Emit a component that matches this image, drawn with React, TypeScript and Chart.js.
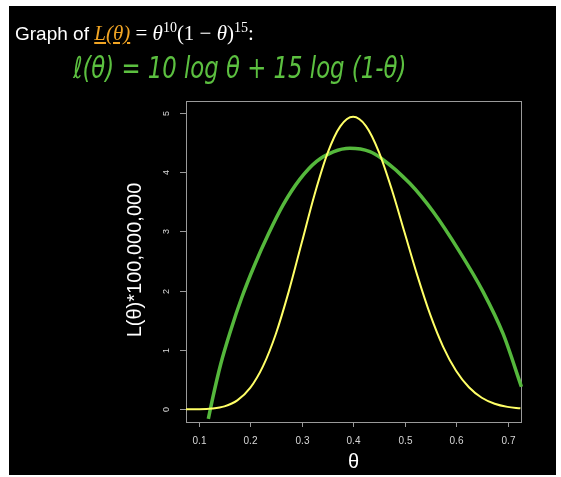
import React, { useEffect, useRef } from "react";
import { Chart, registerables } from "chart.js";

Chart.register(...registerables);

// Yellow curve: L(theta) * 100,000,000
const thetaL = [0.075, 0.1, 0.125, 0.15, 0.175, 0.2, 0.225, 0.25, 0.275, 0.3, 0.325, 0.35, 0.375, 0.4, 0.425, 0.45, 0.475, 0.5, 0.525, 0.55, 0.575, 0.6, 0.625, 0.65, 0.675, 0.7, 0.725];
const valuesL = [0.0002, 0.002, 0.013, 0.05, 0.15, 0.36, 0.727, 1.274, 1.988, 2.803, 3.618, 4.31, 4.769, 4.93, 4.774, 4.34, 3.709, 2.98, 2.249, 1.591, 1.053, 0.649, 0.371, 0.195, 0.094, 0.041, 0.016];

// Green hand-drawn curve
const thetaG = [0.1187, 0.1272, 0.1427, 0.1621, 0.1835, 0.208, 0.2352, 0.2643, 0.2967, 0.329, 0.3614, 0.3938, 0.4326, 0.455, 0.51, 0.5556, 0.6074, 0.6526, 0.6915, 0.727];
const valuesG = [-0.16, 0.19, 0.76, 1.33, 1.88, 2.42, 2.95, 3.45, 3.88, 4.18, 4.34, 4.4, 4.344, 4.23, 3.81, 3.33, 2.65, 1.98, 1.27, 0.38];

const xTicks = [0.1, 0.2, 0.3, 0.4, 0.5, 0.6, 0.7];
const yTicks = [0, 1, 2, 3, 4, 5];

const yTitle = "L(θ)*100,000,000";
const xTitle = "θ";

const W = 561;
const H = 477;

const framePlugin = {
  id: "frame",
  beforeDraw(chart: any) {
    const ctx = chart.ctx;
    const { left, top, right, bottom } = chart.chartArea;
    const xs = chart.scales.x;
    const ys = chart.scales.y;
    ctx.save();
    ctx.fillStyle = "#ffffff";
    ctx.fillRect(0, 0, W, H);
    ctx.fillStyle = "#000000";
    ctx.fillRect(9, 6, 547, 469);
    // box
    ctx.strokeStyle = "#9a9a9a";
    ctx.lineWidth = 1;
    ctx.strokeRect(Math.round(left) + 0.5, Math.round(top) + 0.5, Math.round(right - left), Math.round(bottom - top));
    // x ticks
    ctx.fillStyle = "#d8d8d8";
    ctx.font = "10px 'Liberation Sans', Arial, sans-serif";
    ctx.textAlign = "center";
    ctx.textBaseline = "middle";
    xTicks.forEach((t) => {
      const px = Math.round(xs.getPixelForValue(t)) + 0.5;
      ctx.beginPath();
      ctx.moveTo(px, bottom);
      ctx.lineTo(px, bottom + 5);
      ctx.stroke();
      ctx.fillText(String(t), px, bottom + 19);
    });
    // y ticks
    ctx.font = "9px 'Liberation Sans', Arial, sans-serif";
    yTicks.forEach((t) => {
      const py = Math.round(ys.getPixelForValue(t)) + 0.5;
      ctx.beginPath();
      ctx.moveTo(left, py);
      ctx.lineTo(left - 6, py);
      ctx.stroke();
      ctx.save();
      ctx.translate(left - 19, py);
      ctx.rotate(-Math.PI / 2);
      ctx.fillText(String(t), 0, 0);
      ctx.restore();
    });
    // axis titles
    ctx.fillStyle = "#ffffff";
    ctx.font = "20px 'Liberation Sans', Arial, sans-serif";
    ctx.save();
    ctx.translate(135, 260);
    ctx.rotate(-Math.PI / 2);
    ctx.fillText(yTitle, 0, 0);
    ctx.restore();
    ctx.font = "20px 'Liberation Sans', Arial, sans-serif";
    ctx.fillText(xTitle, (left + right) / 2, 462);
    ctx.restore();
  },
};

export default function App() {
  const ref = useRef<HTMLCanvasElement | null>(null);
  useEffect(() => {
    if (!ref.current) return;
    const chart = new Chart(ref.current, {
      type: "line",
      data: {
        datasets: [
          {
            data: thetaL.map((x, i) => ({ x, y: valuesL[i] })),
            borderColor: "#ffff66",
            borderWidth: 2,
            pointRadius: 0,
            cubicInterpolationMode: "monotone",
            fill: false,
          },
          {
            data: thetaG.map((x, i) => ({ x, y: valuesG[i] })),
            borderColor: "#55b83c",
            borderWidth: 3.5,
            pointRadius: 0,
            cubicInterpolationMode: "monotone",
            fill: false,
            clip: false as any,
          },
        ],
      },
      options: {
        animation: false,
        responsive: false,
        devicePixelRatio: 1,
        layout: { padding: { left: 186, top: 101, right: W - 521, bottom: H - 422 } },
        plugins: { legend: { display: false }, tooltip: { enabled: false } },
        events: [],
        scales: {
          x: { type: "linear", min: 0.0753, max: 0.7262, display: false },
          y: { type: "linear", min: -0.214, max: 5.197, display: false },
        },
      },
      plugins: [framePlugin],
    });
    return () => chart.destroy();
  }, []);

  return (
    <div style={{ position: "absolute", left: 0, top: 0, width: W, height: H }}>
      <canvas ref={ref} width={W} height={H} style={{ position: "absolute", left: 0, top: 0, width: W, height: H }} />
      <div
        style={{
          position: "absolute",
          left: 15,
          top: 14,
          color: "#ffffff",
          fontSize: 19,
          fontFamily: "'Liberation Sans', Arial, sans-serif",
          whiteSpace: "nowrap",
          lineHeight: "28px",
        }}
      >
        <span>Graph of </span>
        <span style={{ color: "#f0a424", fontFamily: "'Liberation Serif', serif", fontStyle: "italic", textDecoration: "underline", fontSize: 21 }}>L(θ)</span>
        <span style={{ fontFamily: "'Liberation Serif', serif", fontSize: 21 }}>
          {" = "}
          <i>θ</i>
          <sup style={{ fontSize: 14 }}>10</sup>
          (1 − <i>θ</i>)<sup style={{ fontSize: 14 }}>15</sup>:
        </span>
      </div>
      <div
        style={{
          position: "absolute",
          left: 73,
          top: 46,
          color: "#5cc040",
          fontSize: 30,
          fontFamily: "'DejaVu Sans', sans-serif",
          fontStyle: "italic",
          whiteSpace: "nowrap",
          lineHeight: "44px",
          transform: "scaleX(0.76)",
          transformOrigin: "left top",
        }}
      >
        ℓ(θ) = 10 log θ + 15 log (1-θ)
      </div>
    </div>
  );
}
